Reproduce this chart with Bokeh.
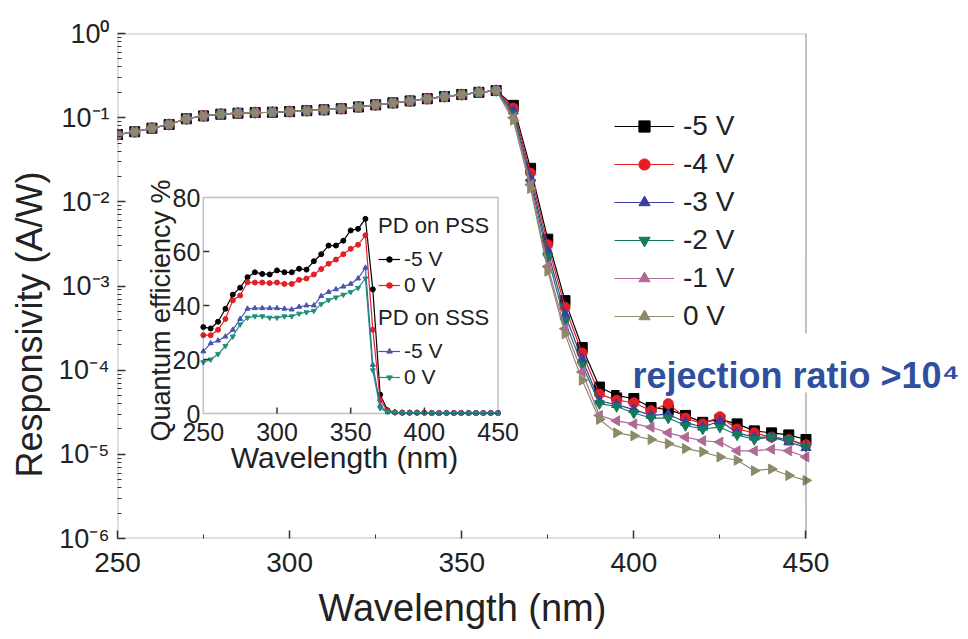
import numpy as np
from bokeh.plotting import figure
from bokeh.models import (Legend, LegendItem, Label, BoxAnnotation, FixedTicker,
                          CustomJSTickFormatter, Range1d, LinearScale, Title)
from bokeh.core.properties import value
from bokeh.embed import file_html
from bokeh.resources import INLINE

FONT = "Liberation Sans"
TXT = "#222222"
EDGE = "#333333"

# ---------------- main chart data ----------------
wavelength = list(range(250, 455, 5))

# 250..360 nm : all biases overlap
resp_flat = [0.063, 0.068, 0.075, 0.083, 0.097, 0.105, 0.110, 0.113, 0.115, 0.116,
             0.118, 0.121, 0.124, 0.128, 0.134, 0.142, 0.150, 0.158, 0.168, 0.178,
             0.188, 0.200, 0.210]
# 365..450 nm
tail_m5 = [0.14, 0.025, 0.0036, 6.7e-4, 1.86e-4, 6.3e-5, 5.0e-5, 4.6e-5, 3.6e-5, 3.4e-5,
           2.9e-5, 2.4e-5, 2.6e-5, 2.3e-5, 1.9e-5, 1.8e-5, 1.7e-5, 1.5e-5]
tail_m4 = [0.13, 0.022, 0.0031, 5.6e-4, 1.6e-4, 5.2e-5, 4.4e-5, 4.1e-5, 3.3e-5, 4.0e-5,
           2.7e-5, 2.3e-5, 2.8e-5, 2.0e-5, 1.8e-5, 1.6e-5, 1.5e-5, 1.3e-5]
tail_m3 = [0.12, 0.019, 0.0026, 4.6e-4, 1.35e-4, 4.3e-5, 3.9e-5, 3.4e-5, 2.9e-5, 3.0e-5,
           2.4e-5, 2.1e-5, 2.5e-5, 1.8e-5, 1.6e-5, 1.6e-5, 1.4e-5, 1.2e-5]
tail_m2 = [0.11, 0.017, 0.0022, 3.8e-4, 1.15e-4, 4.0e-5, 3.7e-5, 3.1e-5, 2.7e-5, 2.7e-5,
           2.2e-5, 2.0e-5, 2.1e-5, 1.7e-5, 1.5e-5, 1.6e-5, 1.5e-5, 1.25e-5]
tail_m1 = [0.10, 0.016, 0.0017, 3.1e-4, 9.5e-5, 2.9e-5, 2.5e-5, 2.3e-5, 2.1e-5, 1.8e-5,
           1.6e-5, 1.45e-5, 1.4e-5, 1.1e-5, 1.1e-5, 1.15e-5, 1.1e-5, 9.3e-6]
tail_0 = [0.093, 0.0144, 0.0015, 2.7e-4, 7.6e-5, 2.6e-5, 1.8e-5, 1.66e-5, 1.5e-5, 1.34e-5,
          1.17e-5, 1.07e-5, 9.3e-6, 8.5e-6, 6.4e-6, 6.7e-6, 5.6e-6, 4.9e-6]

bias_labels = ["-5 V", "-4 V", "-3 V", "-2 V", "-1 V", "0 V"]
bias_tails = [tail_m5, tail_m4, tail_m3, tail_m2, tail_m1, tail_0]
bias_colors = ["#000000", "#e41e26", "#3b3f9e", "#137a5c", "#b06a96", "#8c8a68"]
bias_markers = ["square", "circle", "triangle", "inverted_triangle", "triangle", "triangle"]
bias_angles = [0, 0, 0, 0, np.pi / 2, -np.pi / 2]

y_major = [1e-6, 1e-5, 1e-4, 1e-3, 1e-2, 1e-1, 1]
x_major = [250, 300, 350, 400, 450]
x_minor = [275, 325, 375, 425]

# ---------------- inset data ----------------
qe_tail = [0.4, 0.3, 0.3, 0.3, 0.3, 0.2, 0.2, 0.2, 0.2, 0.2, 0.2, 0.2, 0.2, 0.2, 0.2]
qe_pss_m5 = [32, 31.5, 34, 38.8, 44, 46.6, 50.5, 52.3, 51.7, 51.5, 53, 52.3, 52.3, 53.6,
             53.3, 56.4, 59, 62.2, 62.2, 64, 67.8, 68.4, 72.1, 46, 7, 1.2] + qe_tail
qe_pss_0 = [29, 29, 31, 35, 41.9, 43.7, 48.6, 48.5, 48.5, 48.3, 48.5, 48, 48, 49.5,
            50, 51.5, 53.5, 55.5, 57, 59, 61, 62.5, 66, 31, 5, 1.0] + qe_tail
qe_sss_m5 = [23, 26, 27, 28.5, 31, 35, 38.8, 39, 39, 39, 39, 38.8, 38.5, 39.5,
             40, 40, 43.5, 45, 46, 47, 48, 50, 54, 18, 3, 0.6] + qe_tail
qe_sss_0 = [19, 20, 22, 25, 28.5, 33, 35.5, 36, 36, 35.5, 35.5, 36, 36, 37,
            37.5, 38, 40.5, 42, 43, 44, 45, 46.5, 50, 16, 2, 0.5] + qe_tail
qe_x_ticks = [250, 300, 350, 400, 450]
qe_y_ticks = [0, 20, 40, 60, 80]

# ---------------- layout constants (pixels) ----------------
FIG_W, FIG_H = 968, 639
FL, FT, FB = 125, 33, 538          # main frame left / top / bottom
AX_R = 807                          # where 450 nm sits
X_PX = (AX_R - FL) / 200.0
IL, IR, IT, IB = 210, 502, 197, 413  # inset frame
IX_PX = (IR - IL) / 200.0
IY_PX = (IB - IT) / 80.0

p = figure(width=FIG_W, height=FIG_H,
           x_range=(250, 250 + (FIG_W - FL) / X_PX), y_range=(1e-6, 1),
           y_axis_type="log", output_backend="svg", toolbar_location=None,
           min_border_left=FL - 8, min_border_right=0, min_border_top=FT,
           min_border_bottom=FIG_H - FB)
p.background_fill_color = "white"
p.border_fill_color = "white"
p.outline_line_alpha = 0
p.grid.visible = False

p.extra_x_ranges = {"ix": Range1d(250 - (IL - FL) / IX_PX, 250 + (FIG_W - IL) / IX_PX)}
p.extra_y_ranges = {"iy": Range1d(-(FB - IB) / IY_PX, (IB - FT) / IY_PX)}
p.extra_y_scales = {"iy": LinearScale()}
p.extra_x_scales = {"ix": LinearScale()}

# main frame box (250..450 nm)
p.add_layout(BoxAnnotation(left=250, right=450, bottom=1e-6, top=1,
                           fill_alpha=0, line_color=EDGE, line_width=2))
# inset frame box
p.add_layout(BoxAnnotation(left=250, right=450, bottom=0, top=80,
                           x_range_name="ix", y_range_name="iy",
                           fill_alpha=0, line_color=EDGE, line_width=1.5))

items = []
for lab, tail, col, mk, ang in zip(bias_labels, bias_tails, bias_colors, bias_markers, bias_angles):
    vals = resp_flat + tail
    r1 = p.line(wavelength, vals, line_color=col, line_width=1.2)
    r2 = p.scatter(wavelength, vals, marker=mk, angle=ang, size=10,
                   fill_color=col, line_color=col)
    items.append(LegendItem(label=lab, renderers=[r1, r2]))

p.add_layout(Legend(items=items, location=(622 - FL, FB - 333), orientation="vertical",
                    background_fill_alpha=0, border_line_alpha=0, padding=0, margin=0,
                    spacing=4, glyph_width=60, glyph_height=28, label_height=34,
                    label_standoff=9, label_text_font=FONT, label_text_font_size="28px",
                    label_text_color=TXT))

p.xaxis.ticker = FixedTicker(ticks=x_major, minor_ticks=x_minor)
p.yaxis.ticker = FixedTicker(ticks=y_major,
                             minor_ticks=[m * 10.0 ** e for e in range(-6, 0) for m in range(2, 10)])
p.yaxis.formatter = CustomJSTickFormatter(code="""
const sup = {"-":"\u207b","0":"\u2070","1":"\u00b9","2":"\u00b2","3":"\u00b3","4":"\u2074",
             "5":"\u2075","6":"\u2076","7":"\u2077","8":"\u2078","9":"\u2079"};
const e = Math.round(Math.log10(tick));
return "10" + String(e).split("").map(c => sup[c]).join("");
""")

for ax in (p.xaxis[0], p.yaxis[0]):
    ax.major_tick_in = 8
    ax.major_tick_out = 0
    ax.minor_tick_in = 4
    ax.minor_tick_out = 0
    ax.axis_line_alpha = 0
    ax.major_tick_line_color = EDGE
    ax.major_tick_line_width = 1.5
    ax.minor_tick_line_color = EDGE
    ax.major_label_text_font = FONT
    ax.major_label_text_color = TXT
    ax.major_label_standoff = 8

p.xaxis.major_label_text_font_size = "28px"
p.xaxis.major_label_standoff = 14
p.yaxis.major_label_text_font_size = "27px"

# y-axis title (placed a little below the frame centre, as in the original)
p.add_layout(Title(text="Responsivity (A/W)", align="left", offset=FB - 477,
                   text_font=FONT, text_font_size="36px", text_font_style="normal",
                   text_color=TXT, standoff=12), "left")

# x-axis title, centred under the 250..450 nm span
p.add_layout(Title(text="Wavelength (nm)", align="left", offset=326 - FL,
                   text_font=FONT, text_font_size="38px", text_font_style="normal",
                   text_color=TXT, standoff=20), "below")

# rejection-ratio note on white box
p.add_layout(BoxAnnotation(left=627 - FL, right=FIG_W - FL, top=FB - 333, bottom=FB - 392,
                           left_units="screen", right_units="screen",
                           top_units="screen", bottom_units="screen",
                           fill_color="white", fill_alpha=1, line_alpha=0))
p.add_layout(Label(x=640 - FL, y=FB - 375, x_units="screen", y_units="screen",
                   text="rejection ratio >10\u2074", text_font=FONT,
                   text_font_style="bold", text_font_size="36px",
                   text_color="#2f4fa0", text_baseline="alphabetic"))

# ---------------- inset ----------------
qe_series = [("-5 V", qe_pss_m5, "#000000", "circle"),
             ("0 V", qe_pss_0, "#e41e26", "circle"),
             ("-5 V", qe_sss_m5, "#4a55b0", "triangle"),
             ("0 V", qe_sss_0, "#1f8f7a", "inverted_triangle")]
qe_items = []
for lab, vals, col, mk in qe_series:
    r1 = p.line(wavelength, vals, line_color=col, line_width=1.2,
                x_range_name="ix", y_range_name="iy")
    r2 = p.scatter(wavelength, vals, marker=mk, size=5, fill_color=col, line_color=col,
                   x_range_name="ix", y_range_name="iy")
    qe_items.append(LegendItem(label=lab, renderers=[r1, r2]))

leg_kw = dict(background_fill_alpha=0, border_line_alpha=0, padding=0, margin=0,
              spacing=2, glyph_width=22, glyph_height=14, label_height=20,
              label_standoff=4, label_text_font=FONT, label_text_font_size="21px",
              label_text_color=TXT, title_text_font=FONT, title_text_font_size="22px",
              title_text_font_style="normal", title_text_color=TXT, title_standoff=8)
p.add_layout(Legend(items=qe_items[:2], title="PD on PSS",
                    location=(386 - FL, FB - 297), **leg_kw))
p.add_layout(Legend(items=qe_items[2:], title="PD on SSS",
                    location=(386 - FL, FB - 389), **leg_kw))

# inset ticks (inward) and tick labels
tick_x = qe_x_ticks[1:-1]
tick_y = qe_y_ticks[1:-1]
p.segment(x0=tick_x, x1=tick_x, y0=[0] * len(tick_x), y1=[6 / IY_PX] * len(tick_x),
          line_color=EDGE, line_width=1.5, x_range_name="ix", y_range_name="iy")
p.segment(x0=[250] * len(tick_y), x1=[250 + 6 / IX_PX] * len(tick_y), y0=tick_y, y1=tick_y,
          line_color=EDGE, line_width=1.5, x_range_name="ix", y_range_name="iy")
p.text(x=qe_x_ticks, y=[0] * len(qe_x_ticks), text=[str(v) for v in qe_x_ticks],
       y_offset=9, text_align="center", text_baseline="top", text_font=value(FONT),
       text_font_size="25px", text_color=TXT, x_range_name="ix", y_range_name="iy")
p.text(x=[250] * len(qe_y_ticks), y=qe_y_ticks, text=[str(v) for v in qe_y_ticks],
       x_offset=-3, text_align="right", text_baseline="middle", text_font=value(FONT),
       text_font_size="25px", text_color=TXT, x_range_name="ix", y_range_name="iy")

p.add_layout(Label(x=352 - FL, y=FB - 457, x_units="screen", y_units="screen",
                   text="Wavelength (nm)", text_align="center", text_baseline="middle",
                   text_font=FONT, text_font_size="30px", text_color=TXT))
p.add_layout(Label(x=168 - FL, y=FB - 310, x_units="screen", y_units="screen",
                   text="Quantum efficiency %", angle=np.pi / 2, text_align="center",
                   text_baseline="middle", text_font=FONT, text_font_size="27px",
                   text_color=TXT))

open("out.html", "w").write(file_html(p, INLINE))
